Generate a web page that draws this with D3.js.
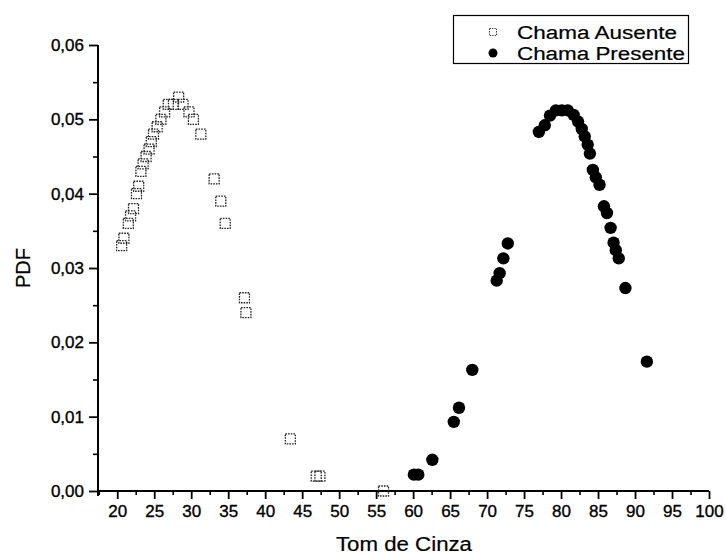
<!DOCTYPE html>
<html>
<head>
<meta charset="utf-8">
<script src="https://cdn.jsdelivr.net/npm/d3@7"></script>
<style>
  html, body { margin: 0; padding: 0; background: #fff; }
  svg { display: block; font-family: "Liberation Sans", Arial, sans-serif; }
  svg text { fill: #000; stroke: #000; stroke-width: 0.35px; }
</style>
</head>
<body>
<svg id="chart" width="726" height="554"></svg>
<script>
// Gray-tone probability density, flame absent vs. flame present
const ausenteTom = [20.6, 20.9, 21.5, 21.8, 22.2, 22.6, 22.9, 23.2, 23.5, 23.9, 24.3, 24.6, 24.9, 25.4, 25.9, 26.4, 26.9, 27.6, 28.3, 28.9, 29.7, 30.3, 31.3, 33.1, 34.0, 34.6, 37.2, 37.4, 43.4, 46.9, 47.4, 56.0];
const ausentePdf = [0.0330, 0.0340, 0.0360, 0.0370, 0.0380, 0.0400, 0.0410, 0.0430, 0.0440, 0.0450, 0.0460, 0.0470, 0.0480, 0.0490, 0.0500, 0.0510, 0.0520, 0.0520, 0.0530, 0.0520, 0.0510, 0.0500, 0.0480, 0.0420, 0.0390, 0.0360, 0.0260, 0.0240, 0.0070, 0.0020, 0.0020, 0.0000];

const presenteTom = [60.1, 60.7, 62.6, 65.5, 66.2, 68.0, 71.3, 71.7, 72.2, 72.8, 77.0, 77.8, 78.5, 79.3, 80.1, 80.9, 81.7, 82.3, 82.8, 83.2, 83.6, 83.9, 84.3, 84.7, 85.2, 85.8, 86.2, 86.7, 87.1, 87.4, 87.8, 88.7, 91.6];
const presentePdf = [0.0022, 0.0022, 0.0042, 0.0093, 0.0112, 0.0163, 0.0283, 0.0293, 0.0313, 0.0333, 0.0483, 0.0492, 0.0505, 0.0512, 0.0512, 0.0512, 0.0506, 0.0497, 0.0487, 0.0477, 0.0466, 0.0454, 0.0432, 0.0422, 0.0412, 0.0383, 0.0374, 0.0354, 0.0334, 0.0324, 0.0313, 0.0273, 0.0174];

const xTicks = [20, 25, 30, 35, 40, 45, 50, 55, 60, 65, 70, 75, 80, 85, 90, 95, 100];
const yTicks = [0.00, 0.01, 0.02, 0.03, 0.04, 0.05, 0.06];
const seriesNames = ["Chama Ausente", "Chama Presente"];
const xTitle = "Tom de Cinza";
const yTitle = "PDF";

const svg = d3.select("#chart");
const x = d3.scaleLinear().domain([17.4, 100]).range([98, 709]);
const y = d3.scaleLinear().domain([0, 0.06]).range([491, 45]);
const fmtY = v => d3.format(".2f")(v).replace(".", ",");

// minor ticks halfway between the labelled ones
const xMinor = d3.range(17.5, 100, 5);
const yMinor = d3.range(0.005, 0.06, 0.01);

// x axis
const gx = svg.append("g").attr("transform", `translate(0,${y(0)})`);
gx.call(d3.axisBottom(x).tickValues(xMinor).tickSize(4).tickFormat(""))
  .call(g => g.select(".domain").remove())
  .call(g => g.selectAll("line").attr("stroke", "#000").attr("stroke-width", 1.6));
gx.append("g")
  .call(d3.axisBottom(x).tickValues(xTicks).tickSize(8).tickPadding(6).tickFormat(d3.format("d")))
  .call(g => g.select(".domain").attr("stroke", "#000").attr("stroke-width", 2).attr("d", `M${x.range()[0]},0H${x.range()[1]}`))
  .call(g => g.selectAll("line").attr("stroke", "#000").attr("stroke-width", 1.8))
  .call(g => g.selectAll("text").attr("font-size", 17)
    .attr("font-family", "Liberation Sans, Arial, sans-serif"));

// y axis
const gy = svg.append("g").attr("transform", `translate(${x.range()[0]},0)`);
gy.call(d3.axisLeft(y).tickValues(yMinor).tickSize(5).tickFormat(""))
  .call(g => g.select(".domain").remove())
  .call(g => g.selectAll("line").attr("stroke", "#000").attr("stroke-width", 1.6));
gy.append("g")
  .call(d3.axisLeft(y).tickValues(yTicks).tickSize(9).tickPadding(5).tickFormat(fmtY))
  .call(g => g.select(".domain").attr("stroke", "#000").attr("stroke-width", 2).attr("d", `M0,${y.range()[0] + 5}V${y.range()[1]}`))
  .call(g => g.selectAll("line").attr("stroke", "#000").attr("stroke-width", 1.8))
  .call(g => g.selectAll("text").attr("font-size", 17)
    .attr("font-family", "Liberation Sans, Arial, sans-serif"));

// axis titles
svg.append("text")
  .attr("x", 404).attr("y", 551)
  .attr("text-anchor", "middle")
  .attr("font-size", 20)
  .attr("textLength", 136).attr("lengthAdjust", "spacingAndGlyphs")
  .style("stroke-width", "0.2px")
  .text(xTitle);
svg.append("text")
  .attr("transform", "translate(30,268) rotate(-90)")
  .attr("text-anchor", "middle")
  .attr("font-size", 20)
  .style("stroke-width", "0.2px")
  .text(yTitle);

// open dotted squares: flame absent
const sq = 10;
svg.append("g").selectAll("rect")
  .data(d3.zip(ausenteTom, ausentePdf))
  .join("rect")
  .attr("x", d => x(d[0]) - sq / 2)
  .attr("y", d => y(d[1]) - sq / 2)
  .attr("width", sq).attr("height", sq)
  .attr("fill", "none")
  .attr("stroke", "#222")
  .attr("stroke-width", 1.3)
  .attr("stroke-dasharray", "1.6,1.1");

// filled circles: flame present
svg.append("g").selectAll("circle")
  .data(d3.zip(presenteTom, presentePdf))
  .join("circle")
  .attr("cx", d => x(d[0]))
  .attr("cy", d => y(d[1]))
  .attr("r", 6.2)
  .attr("fill", "#000");

// legend
const lg = svg.append("g");
lg.append("rect")
  .attr("x", 453.5).attr("y", 15.5).attr("width", 235).attr("height", 48)
  .attr("fill", "#fff").attr("stroke", "#000").attr("stroke-width", 1.2);
lg.append("rect")
  .attr("x", 489.5).attr("y", 28.5).attr("width", 7).attr("height", 7)
  .attr("fill", "none").attr("stroke", "#444").attr("stroke-width", 1.1)
  .attr("stroke-dasharray", "1.4,1");
lg.append("circle").attr("cx", 493).attr("cy", 53).attr("r", 4.5).attr("fill", "#000");
lg.append("text").attr("x", 517).attr("y", 39).attr("font-size", 18)
  .attr("textLength", 160).attr("lengthAdjust", "spacingAndGlyphs")
  .style("stroke-width", "0.2px").text(seriesNames[0]);
lg.append("text").attr("x", 517).attr("y", 60).attr("font-size", 18)
  .attr("textLength", 168).attr("lengthAdjust", "spacingAndGlyphs")
  .style("stroke-width", "0.2px").text(seriesNames[1]);
</script>
</body>
</html>
